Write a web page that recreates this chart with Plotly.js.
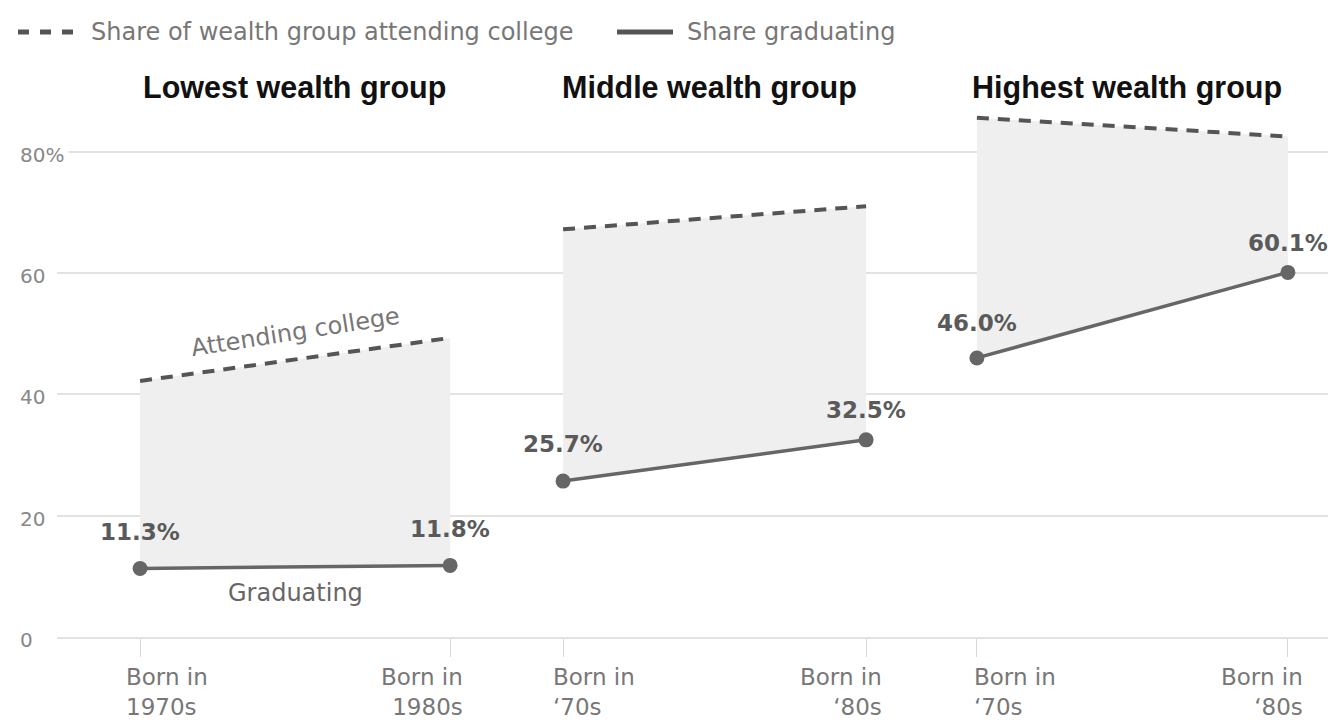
<!DOCTYPE html>
<html><head><meta charset="utf-8">
<script src="https://cdn.plot.ly/plotly-3.0.1.min.js"></script>
<style>html,body{margin:0;padding:0;background:#fff}#chart{width:1328px;height:723px}</style>
</head><body><div id="chart"></div>
<script>
// ---- data ----
const groups = ["Lowest wealth group", "Middle wealth group", "Highest wealth group"];
const cohorts = ["1970s", "1980s"];
const cohortLabels = [
  ["Born in<br>1970s", "Born in<br>1980s"],
  ["Born in<br>\u201870s", "Born in<br>\u201880s"],
  ["Born in<br>\u201870s", "Born in<br>\u201880s"]
];
const attending = [[42.2, 49.3], [67.2, 71.0], [85.6, 82.5]];
const graduating = [[11.3, 11.8], [25.7, 32.5], [46.0, 60.1]];
const gradLabels = [["11.3%", "11.8%"], ["25.7%", "32.5%"], ["46.0%", "60.1%"]];
const yTicks = [0, 20, 40, 60, 80];
const yTickText = ["0", "20", "40", "60", "80%"];
const legendText = ["Share of wealth group attending college", "Share graduating"];
const lineNotes = ["Attending college", "Graduating"];

// ---- layout helpers ----
const W = 1328, H = 723, L = 57, T = 91, B = 86;
const plotW = W - L, plotH = H - T - B;
const px = X => (X - L) / plotW;
const py = Y => (H - B - Y) / plotH;

const axisIds = ["x", "x2", "x3"];
const domains = [[0, 0.3537], [0.3537, 0.6802], [0.6802, 1]];
const ranges = [[-0.268, 1.182], [-0.1865, 1.183], [-0.178, 1.129]];
const labelLift = [[36, 36], [37, 30], [35, 29]];
const tickShift = [[-16, 15], [-12, 18], [-5, 17]];

const REG = "DejaVu Sans, sans-serif";
const BOLD = "Liberation Sans, Arial, sans-serif";
const DASH = "#555", SOLID = "#666", FILL = "#efefef";

const traces = [];
groups.forEach((g, i) => {
  const xa = axisIds[i], ya = "y";
  traces.push({x: cohorts, y: graduating[i], xaxis: xa, yaxis: ya, type: "scatter", mode: "lines",
    line: {width: 0, color: SOLID}, hoverinfo: "skip", showlegend: false});
  traces.push({x: cohorts, y: attending[i], xaxis: xa, yaxis: ya, type: "scatter", mode: "lines",
    fill: "tonexty", fillcolor: FILL, line: {color: DASH, width: 4, dash: "12px,9px"},
    name: legendText[0], showlegend: false});
  traces.push({x: cohorts, y: graduating[i], xaxis: xa, yaxis: ya, type: "scatter", mode: "lines+markers",
    line: {color: SOLID, width: 3.5}, marker: {size: 15, color: SOLID},
    name: legendText[1], showlegend: false, cliponaxis: false});
});

const annotations = [];
const shapes = [];

// group titles
groups.forEach((g, i) => {
  annotations.push({text: "<b>" + g + "</b>", xref: axisIds[i], x: 0.5, yref: "paper", y: py(87),
    xanchor: "center", yanchor: "middle", showarrow: false, xshift: i === 0 ? -1 : -5,
    font: {family: BOLD, size: 30.5, color: "#111"}});
});

// value labels
groups.forEach((g, i) => {
  cohorts.forEach((c, j) => {
    annotations.push({text: "<b>" + gradLabels[i][j] + "</b>", xref: axisIds[i], x: j, yref: "y",
      y: graduating[i][j], yshift: labelLift[i][j], xanchor: "center", yanchor: "middle", showarrow: false,
      font: {family: REG, size: 23, color: "#5a5a5a"}});
    // x tick labels
    annotations.push({text: cohortLabels[i][j], xref: axisIds[i], x: j, yref: "paper", y: py(662),
      xanchor: j === 0 ? "left" : "right", align: j === 0 ? "left" : "right", yanchor: "top",
      xshift: tickShift[i][j], showarrow: false,
      font: {family: REG, size: 23, color: "#777"}});
  });
});

// line notes in first group
annotations.push({text: lineNotes[0], xref: "x", x: 0.5, yref: "y",
  y: (attending[0][0] + attending[0][1]) / 2, yshift: 27, textangle: -9, showarrow: false,
  xanchor: "center", yanchor: "middle", font: {family: REG, size: 24, color: "#777"}});
annotations.push({text: lineNotes[1], xref: "x", x: 0.5, yref: "y",
  y: (graduating[0][0] + graduating[0][1]) / 2, yshift: -26, showarrow: false,
  xanchor: "center", yanchor: "middle", font: {family: REG, size: 24, color: "#666"}});

// y tick labels
yTicks.forEach((v, k) => {
  annotations.push({text: yTickText[k], xref: "paper", x: px(15), yref: "y", y: v, yshift: -3,
    xanchor: "left", yanchor: "middle", showarrow: false, bgcolor: "#fff", borderpad: 4,
    font: {family: REG, size: 20, color: "#888"}});
});

// custom legend
shapes.push({type: "line", xref: "paper", yref: "paper", x0: px(18), x1: px(78), y0: py(32), y1: py(32),
  line: {color: DASH, width: 5, dash: "11px,11px"}});
annotations.push({text: legendText[0], xref: "paper", x: px(89), yref: "paper", y: py(32),
  xanchor: "left", yanchor: "middle", showarrow: false, font: {family: REG, size: 24, color: "#777"}});
shapes.push({type: "line", xref: "paper", yref: "paper", x0: px(617), x1: px(673), y0: py(32), y1: py(32),
  line: {color: DASH, width: 5}});
annotations.push({text: legendText[1], xref: "paper", x: px(685), yref: "paper", y: py(32),
  xanchor: "left", yanchor: "middle", showarrow: false, font: {family: REG, size: 24, color: "#777"}});

const layout = {
  width: W, height: H, margin: {l: L, r: 0, t: T, b: B, pad: 0},
  paper_bgcolor: "#fff", plot_bgcolor: "#fff", showlegend: false,
  yaxis: {range: [0, 90], tickvals: yTicks, showticklabels: false, showgrid: true,
    gridcolor: "#e2e2e2", gridwidth: 2, zeroline: false, fixedrange: true},
  annotations: annotations, shapes: shapes
};
axisIds.forEach((id, i) => {
  const key = i === 0 ? "xaxis" : "xaxis" + (i + 1);
  layout[key] = {domain: domains[i], range: ranges[i], type: "category", anchor: "y",
    showticklabels: false, showgrid: false, zeroline: false, showline: true,
    linecolor: "#e2e2e2", linewidth: 2, ticks: "outside", ticklen: 18, tickwidth: 1,
    tickcolor: "#d8d8d8", fixedrange: true};
});

Plotly.newPlot("chart", traces, layout, {displayModeBar: false, staticPlot: true});
</script>
</body></html>
